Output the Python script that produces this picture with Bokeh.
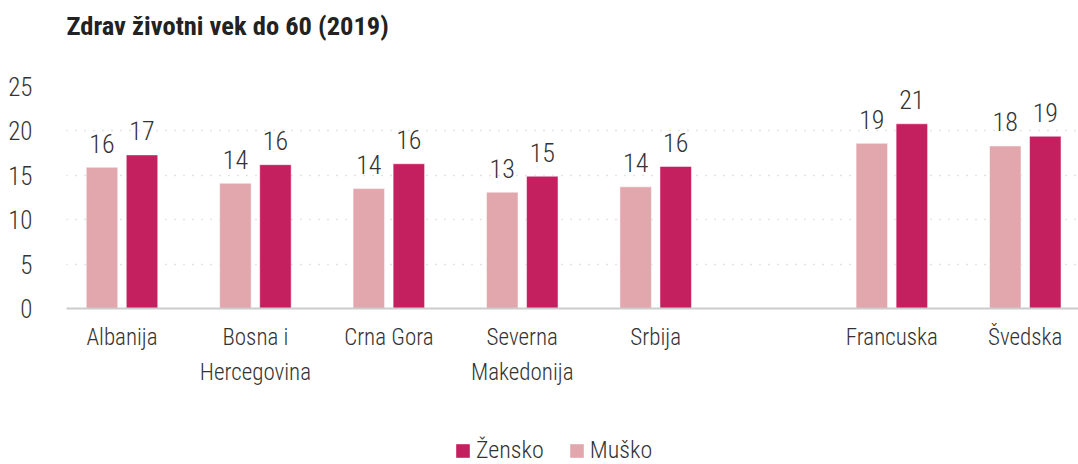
from bokeh.plotting import figure
from bokeh.layouts import column
from bokeh.models import ColumnDataSource, Range1d, FixedTicker, Legend, LegendItem
from bokeh.transform import dodge
from bokeh.core.properties import value
from bokeh.embed import file_html
from bokeh.resources import INLINE

# ---- data ----
title_text = "Zdrav životni vek do 60 (2019)"
countries = ["Albanija", "Bosna i\nHercegovina", "Crna Gora", "Severna\nMakedonija",
             "Srbija", "Francuska", "Švedska"]
zensko = [17.3, 16.2, 16.3, 14.9, 16.0, 20.8, 19.4]
musko = [15.9, 14.1, 13.5, 13.1, 13.7, 18.6, 18.3]
zensko_labels = ["17", "16", "16", "15", "16", "21", "19"]
musko_labels = ["16", "14", "14", "13", "14", "19", "18"]
series_names = ["Žensko", "Muško"]
y_ticks = [0, 5, 10, 15, 20, 25]

# ---- layout constants ----
GAP = 0.77          # extra space between the Balkan group and the EU pair
SPLIT = 5           # index where the EU pair begins
positions = [i + (GAP if i >= SPLIT else 0) for i in range(len(countries))]

FONT = "'Roboto Condensed Light', 'Roboto Condensed', Roboto"
FONT_B = "'Roboto Condensed', Roboto"
C_Z = "#c42060"
C_M = "#e2a6ad"
TXT = "#333333"

# ---- title strip ----
tt = figure(width=1078, height=50, output_backend="svg", toolbar_location=None,
            x_range=Range1d(0, 1), y_range=Range1d(0, 1),
            x_axis_location=None, y_axis_location=None,
            min_border_left=66, min_border_right=0, min_border_top=40, min_border_bottom=0,
            outline_line_color=None)
tt.grid.visible = False
tt.title.text = title_text
tt.title.text_font = FONT_B
tt.title.text_font_style = "bold"
tt.title.text_font_size = "26.5px"
tt.title.text_color = "#222222"
tt.title.align = "left"
tt.title.offset = 0
tt.title.standoff = 0

# ---- main chart ----
src = ColumnDataSource(dict(x=positions, zensko=zensko, musko=musko,
                            zl=zensko_labels, ml=musko_labels))

p = figure(width=1078, height=366, output_backend="svg", toolbar_location=None,
           x_range=Range1d(-0.416, positions[-1] + 0.399), y_range=Range1d(0, 25),
           title_location=None,
           min_border_left=66, min_border_right=0, min_border_top=36, min_border_bottom=108)

off = 0.15
bw = 0.236
rm = p.vbar(x=dodge("x", -off), top="musko", width=bw, source=src,
            fill_color=C_M, line_color="white", line_alpha=0.5, line_width=1)
rz = p.vbar(x=dodge("x", off), top="zensko", width=bw, source=src,
            fill_color=C_Z, line_color="white", line_alpha=0.5, line_width=1)

for col, lab, o in (("musko", "ml", -off), ("zensko", "zl", off)):
    p.text(x=dodge("x", o), y=col, text=lab, source=src, text_align="center",
           text_baseline="alphabetic", y_offset=-24, text_font=value(FONT),
           text_font_size="26px", text_color=TXT)

p.outline_line_color = None
p.xgrid.grid_line_color = None
p.ygrid.ticker = FixedTicker(ticks=y_ticks[1:])
p.ygrid.grid_line_color = "#c8c8c8"
p.ygrid.grid_line_dash = "1 8"
p.ygrid.grid_line_width = 1.5

p.yaxis.ticker = FixedTicker(ticks=y_ticks)
p.yaxis.axis_line_color = None
p.yaxis.major_tick_line_color = None
p.yaxis.minor_tick_line_color = None
p.yaxis.major_label_standoff = 28
p.yaxis.major_label_text_font = FONT
p.yaxis.major_label_text_font_size = "25px"
p.yaxis.major_label_text_color = TXT

p.xaxis.ticker = FixedTicker(ticks=positions)
p.xaxis.major_label_overrides = {pos: name for pos, name in zip(positions, countries)}
p.xaxis.axis_line_color = "#cccccc"
p.xaxis.axis_line_width = 2
p.xaxis.major_tick_line_color = None
p.xaxis.minor_tick_line_color = None
p.xaxis.major_label_standoff = 9
p.xaxis.major_label_text_font = FONT
p.xaxis.major_label_text_font_size = "23px"
p.xaxis.major_label_text_color = TXT
p.xaxis.major_label_text_line_height = 1.3

# ---- legend strip below the chart ----
lg = figure(width=1078, height=48, output_backend="svg", toolbar_location=None,
            x_range=Range1d(0, 1), y_range=Range1d(0, 1),
            x_axis_location=None, y_axis_location=None,
            min_border=0, outline_line_color=None)
lg.grid.visible = False
dummy = ColumnDataSource(dict(x=[-5], top=[-5]))   # off-screen, only for legend swatches
lz = lg.vbar(x="x", top="top", width=0.1, source=dummy, fill_color=C_Z, line_color=None)
lm = lg.vbar(x="x", top="top", width=0.1, source=dummy, fill_color=C_M, line_color=None)
legend = Legend(items=[LegendItem(label=series_names[0], renderers=[lz]),
                       LegendItem(label=series_names[1], renderers=[lm])],
                orientation="horizontal", location=(388, 0),
                label_text_font=FONT, label_text_font_size="24px",
                label_text_color=TXT, glyph_width=17, glyph_height=17,
                label_standoff=5, spacing=24, margin=0, padding=0,
                border_line_color=None, background_fill_alpha=0)
lg.add_layout(legend)

layout = column(tt, p, lg, spacing=0)
open("out.html", "w").write(file_html(layout, INLINE))
